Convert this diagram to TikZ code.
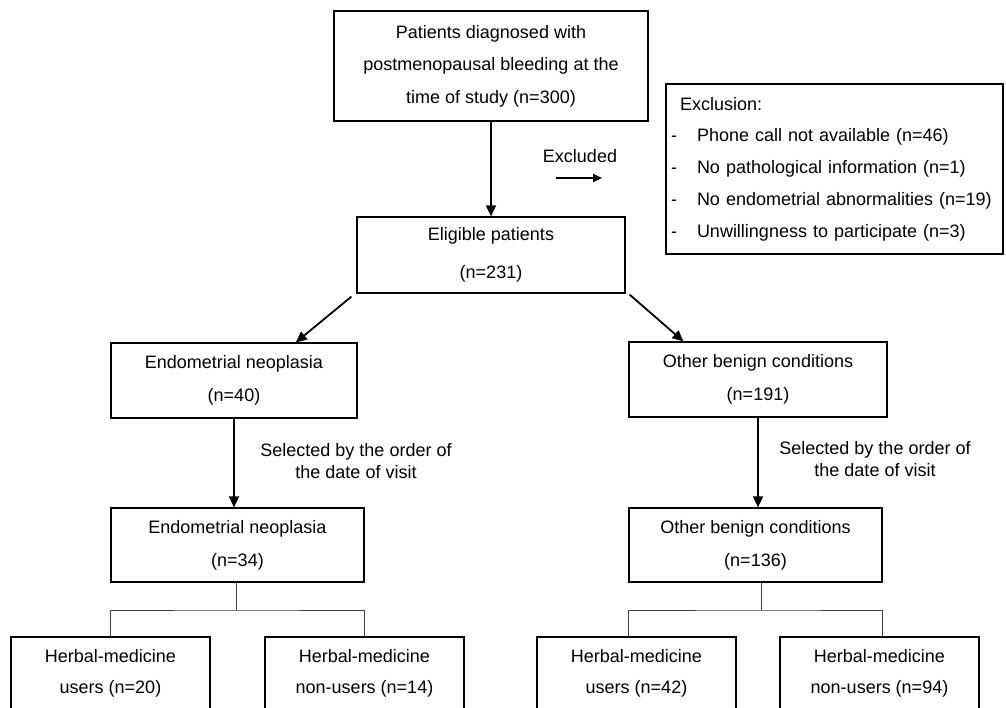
\documentclass[tikz,border=0pt]{standalone}
\usepackage{fontspec}
\setmainfont{Liberation Sans}
\usetikzlibrary{arrows.meta,calc}
\newcommand{\dashitem}{-\hspace{20pt}}

\begin{document}
\begin{tikzpicture}[x=1pt,y=-1pt,
    box/.style={draw,line width=1.2pt,align=center,inner sep=0pt,font=\fontsize{18}{33}\selectfont},
    arr/.style={-{Triangle[length=11pt,width=10pt]},line width=1.8pt},
    tree/.style={line width=0.9pt,black!75}]
    \useasboundingbox (0,0) rectangle (1006,707);

    \node[box,minimum width=314pt,minimum height=110pt,font=\fontsize{18}{32.5}\selectfont] (1) at (491,66) {Patients diagnosed with\\postmenopausal bleeding at the\\time of study (n=300)};
    \node[box,minimum width=268pt,minimum height=76pt,font=\fontsize{18}{38}\selectfont] (2) at (491,255) {Eligible patients\\(n=231)};
    \node[box,align=left,text width=327pt,minimum width=337pt,minimum height=170pt,font=\fontsize{18}{31.8}\selectfont] (3) at (834.5,169) {\hspace*{9pt}Exclusion:\\\dashitem Phone call not available (n=46)\\\dashitem No pathological information (n=1)\\\dashitem No endometrial abnormalities (n=19)\\\dashitem Unwillingness to participate (n=3)};
    \node[box,minimum width=246pt,minimum height=75pt] (4) at (234,380.5) {Endometrial neoplasia\\(n=40)};
    \node[box,minimum width=258pt,minimum height=75pt] (5) at (758,379.5) {Other benign conditions\\(n=191)};
    \node[box,minimum width=253pt,minimum height=74pt] (6) at (237.5,545) {Endometrial neoplasia\\(n=34)};
    \node[box,minimum width=253pt,minimum height=74pt] (7) at (755.5,545) {Other benign conditions\\(n=136)};
    \node[box,minimum width=199pt,minimum height=72pt,font=\fontsize{18}{31}\selectfont] (8) at (110.5,673) {Herbal-medicine\\users (n=20)};
    \node[box,minimum width=199pt,minimum height=72pt,font=\fontsize{18}{31}\selectfont] (9) at (364.5,673) {Herbal-medicine\\non-users (n=14)};
    \node[box,minimum width=199pt,minimum height=72pt,font=\fontsize{18}{31}\selectfont] (10) at (636.5,673) {Herbal-medicine\\users (n=42)};
    \node[box,minimum width=199pt,minimum height=72pt,font=\fontsize{18}{31}\selectfont] (11) at (879.5,673) {Herbal-medicine\\non-users (n=94)};

    \node[font=\fontsize{18}{22}\selectfont] (ex) at (580,156) {Excluded};
    \node[font=\fontsize{18}{22.5}\selectfont,align=center] (s1) at (356,461) {Selected by the order of\\the date of visit};
    \node[font=\fontsize{18}{22.5}\selectfont,align=center] (s2) at (875,459) {Selected by the order of\\the date of visit};

    \coordinate (e1) at (556,178);
    \coordinate (e2) at (602,178);
    \coordinate (j1) at (236,610);
    \coordinate (j2) at (761,610);

    \path
    (1) [arr] edge (2)
    ($(2.south west)+(-5,3)$) [arr] edge ($(4.north)!0.5!(4.north east)$)
    ($(2.south east)+(4,1)$) [arr] edge ($(5.north west)+(55,0)$)
    (4.south) [arr] edge (4.south |- 6.north)
    (5.south) [arr] edge (5.south |- 7.north)
    (e1) [-{Triangle[length=9pt,width=8pt]},line width=1.8pt] edge (e2);

    \draw[tree] (j1 |- 6.south) -- (j1)
    (6.south west |- 8.north) |- (j1) -| (6.south east |- 9.north);
    \draw[tree] (j2 |- 7.south) -- (j2)
    (7.south west |- 10.north) |- (j2) -| (7.south east |- 11.north);
\end{tikzpicture}
\end{document}
